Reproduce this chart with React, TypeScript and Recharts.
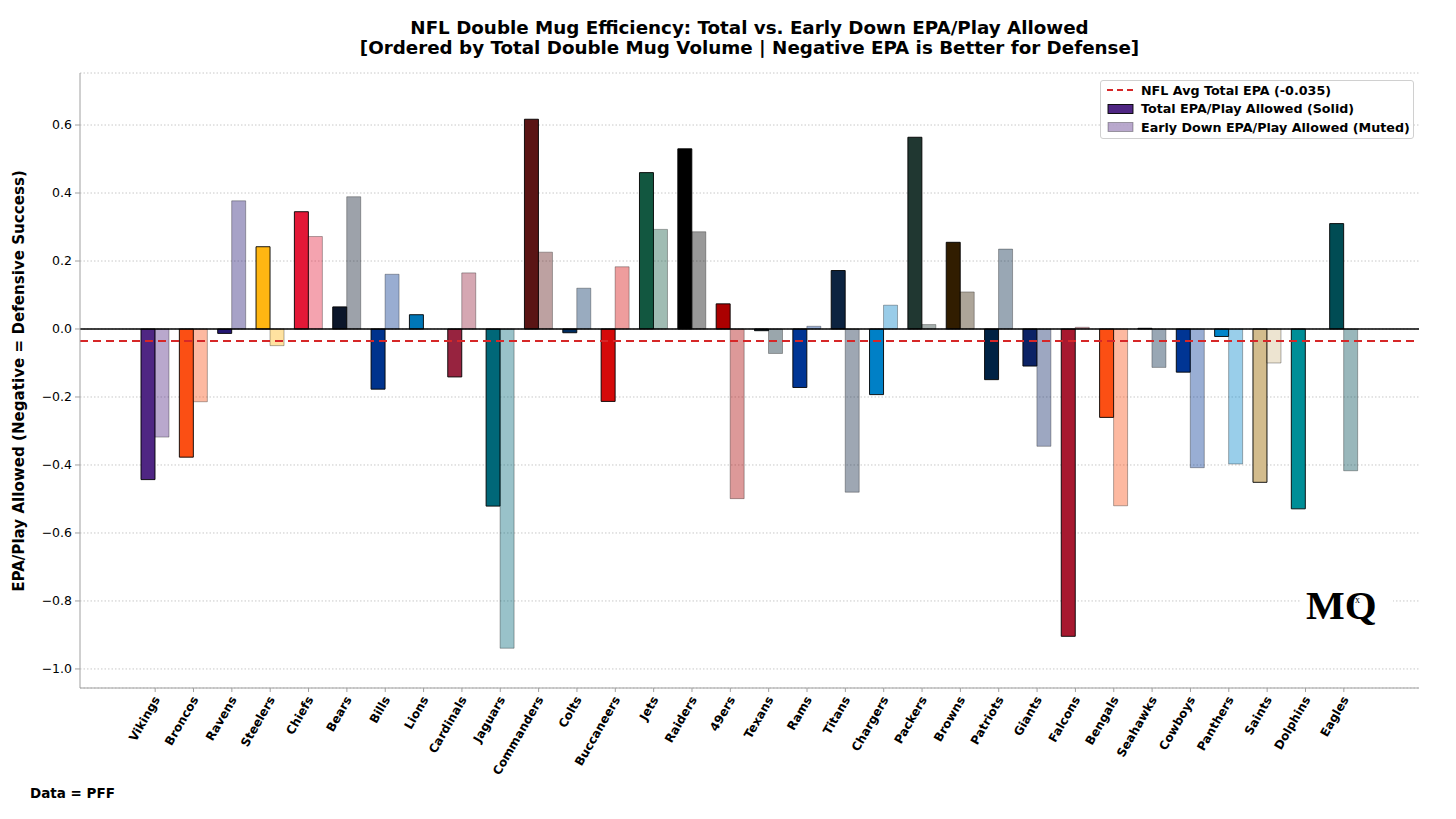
import React from 'react'
import {
  BarChart,
  Bar,
  Cell,
  XAxis,
  YAxis,
  CartesianGrid,
  ReferenceLine,
} from 'recharts'

// teams ordered by total double mug volume
const teams = [
  'Vikings', 'Broncos', 'Ravens', 'Steelers', 'Chiefs', 'Bears', 'Bills', 'Lions',
  'Cardinals', 'Jaguars', 'Commanders', 'Colts', 'Buccaneers', 'Jets', 'Raiders', '49ers',
  'Texans', 'Rams', 'Titans', 'Chargers', 'Packers', 'Browns', 'Patriots', 'Giants',
  'Falcons', 'Bengals', 'Seahawks', 'Cowboys', 'Panthers', 'Saints', 'Dolphins', 'Eagles',
]

const totalEpa = [
  -0.443, -0.377, -0.013, 0.242, 0.345, 0.065, -0.177, 0.042,
  -0.141, -0.521, 0.617, -0.011, -0.213, 0.46, 0.53, 0.074,
  -0.005, -0.172, 0.172, -0.193, 0.564, 0.255, -0.149, -0.109,
  -0.904, -0.26, 0.002, -0.127, -0.022, -0.451, -0.529, 0.31,
]

const earlyDownEpa = [
  -0.318, -0.214, 0.377, -0.049, 0.272, 0.389, 0.161, 0,
  0.165, -0.939, 0.226, 0.12, 0.183, 0.293, 0.286, -0.499,
  -0.072, 0.008, -0.48, 0.07, 0.013, 0.109, 0.235, -0.345,
  0.005, -0.52, -0.113, -0.408, -0.397, -0.1, 0, -0.417,
]

const teamColors = [
  '#4F2683', '#FB4F14', '#241773', '#FFB612', '#E31837', '#0B162A', '#00338D', '#0076B6',
  '#97233F', '#006778', '#5A1414', '#002C5F', '#D50A0A', '#125740', '#000000', '#AA0000',
  '#03202F', '#003594', '#0C2340', '#0080C6', '#203731', '#311D00', '#002244', '#0B2265',
  '#A71930', '#FB4F14', '#002244', '#003594', '#0085CA', '#D3BC8D', '#008E97', '#004C54',
]

const yTicks = [-1.0, -0.8, -0.6, -0.4, -0.2, 0, 0.2, 0.4, 0.6]
const nflAvg = -0.035

const data = teams.map((team, i) => ({
  team,
  total: totalEpa[i],
  early: earlyDownEpa[i],
}))

const FONT = '"DejaVu Sans", sans-serif'

const fmt = (v: number) => (v < 0 ? '\u2212' : '') + Math.abs(v).toFixed(1)

const TeamTick = (props: any) => {
  const { x, y, payload } = props
  return (
    <g transform={`translate(${x},${y})`}>
      <text
        x={-2}
        y={0}
        dy='0.6em'
        transform='rotate(-60)'
        textAnchor='end'
        fontFamily={FONT}
        fontWeight='bold'
        fontSize={12}
        fill='#000'
      >
        {payload.value}
      </text>
    </g>
  )
}

export default function App() {
  return (
    <div style={{ position: 'relative', width: 1440, height: 803, fontFamily: FONT }}>
      <BarChart
        width={1440}
        height={803}
        data={data}
        margin={{ top: 65, right: 29, bottom: 23, left: 12 }}
        barGap={0}
      >
        <text x={741.5} y={26} textAnchor='middle' fontFamily={FONT} fontWeight='bold' fontSize={18.3} fill='#000'>
          NFL Double Mug Efficiency: Total vs. Early Down EPA/Play Allowed
        </text>
        <text x={741.5} y={46} textAnchor='middle' fontFamily={FONT} fontWeight='bold' fontSize={18.3} fill='#000'>
          [Ordered by Total Double Mug Volume | Negative EPA is Better for Defense]
        </text>
        <text
          x={-373}
          y={16}
          transform='rotate(-90)'
          textAnchor='middle'
          fontFamily={FONT}
          fontWeight='bold'
          fontSize={15.1}
          fill='#000'
        >
          EPA/Play Allowed (Negative = Defensive Success)
        </text>
        <CartesianGrid vertical={false} stroke='#c8c8c8' strokeDasharray='1.5 2' />
        <XAxis
          dataKey='team'
          interval={0}
          height={100}
          padding={{ left: 56, right: 56 }}
          tick={<TeamTick />}
          tickSize={4}
          tickMargin={2}
          stroke='#a0a0a0'
        />
        <YAxis
          type='number'
          domain={[-1.056, 0.753]}
          ticks={yTicks}
          tickFormatter={fmt}
          width={60}
          tickSize={5}
          tickMargin={3}
          stroke='#a0a0a0'
          tick={{ fill: '#000', fontSize: 12.5, fontFamily: FONT }}
          allowDataOverflow
        />
        <ReferenceLine y={0} stroke='#000' strokeWidth={1.3} ifOverflow='extendDomain' />
        <Bar dataKey='total' barSize={14} isAnimationActive={false}>
          {data.map((_, i) => (
            <Cell key={`t-${i}`} fill={teamColors[i]} stroke='#000' strokeWidth={0.9} />
          ))}
        </Bar>
        <Bar dataKey='early' barSize={14} isAnimationActive={false}>
          {data.map((_, i) => (
            <Cell
              key={`e-${i}`}
              fill={teamColors[i]}
              fillOpacity={0.4}
              stroke='#000'
              strokeOpacity={0.35}
              strokeWidth={0.9}
            />
          ))}
        </Bar>
        <ReferenceLine y={nflAvg} stroke='#d62728' strokeWidth={2} strokeDasharray='8 5' />
        <rect x={1293} y={568} width={92} height={52} fill='#fff' />
        <text x={1298} y={611} fontFamily='"Liberation Serif", serif' fontWeight='bold' fontSize={41} fill='#000'>
          MQ
        </text>
        <text x={1347} y={595} fontFamily='"Liberation Serif", serif' fontSize={10} fill='#000'>
          x
        </text>
        <text x={22} y={790} fontFamily={FONT} fontWeight='bold' fontSize={13.5} fill='#000'>
          Data = PFF
        </text>
      </BarChart>
      <div
        style={{
          position: 'absolute',
          left: 1092,
          top: 72,
          width: 312,
          height: 57,
          border: '1px solid #d0d0d0',
          borderRadius: 3,
          background: 'rgba(255,255,255,0.85)',
          fontFamily: FONT,
          fontWeight: 'bold',
          fontSize: 12.7,
          color: '#000',
        }}
      >
        {[
          { label: `NFL Avg Total EPA (${nflAvg.toFixed(3)})`, kind: 'line' },
          { label: 'Total EPA/Play Allowed (Solid)', kind: 'solid' },
          { label: 'Early Down EPA/Play Allowed (Muted)', kind: 'muted' },
        ].map((item, i) => (
          <div key={item.label} style={{ position: 'absolute', left: 0, top: 0 + i * 18.7, height: 18, display: 'flex', alignItems: 'center' }}>
            <svg width={40} height={18} style={{ display: 'block' }}>
              {item.kind === 'line' ? (
                <line x1={6} x2={33} y1={9} y2={9} stroke='#d62728' strokeWidth={2} strokeDasharray='6 4' />
              ) : (
                <rect
                  x={7}
                  y={4.5}
                  width={25}
                  height={9}
                  fill={teamColors[0]}
                  fillOpacity={item.kind === 'muted' ? 0.4 : 1}
                  stroke='#000'
                  strokeOpacity={item.kind === 'muted' ? 0.35 : 1}
                  strokeWidth={0.9}
                />
              )}
            </svg>
            <span style={{ whiteSpace: 'nowrap' }}>{item.label}</span>
          </div>
        ))}
      </div>
    </div>
  )
}
